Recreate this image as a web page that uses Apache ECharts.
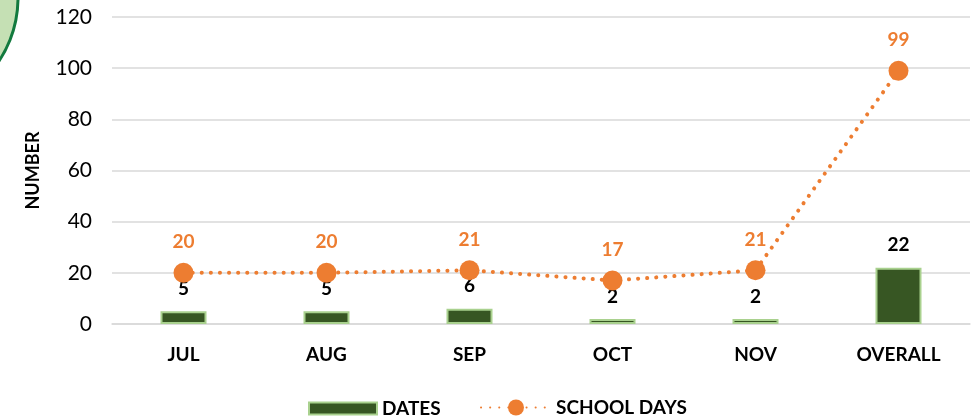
<!DOCTYPE html>
<html><head><meta charset="utf-8">
<script src="https://cdn.jsdelivr.net/npm/echarts@6/dist/echarts.min.js"></script>
<style>html,body{margin:0;padding:0;background:#fff}#c{width:976px;height:419px}</style>
</head><body><div id="c"></div>
<script>
const categories = ['JUL','AUG','SEP','OCT','NOV','OVERALL'];
const datesValues = [5,5,6,2,2,22];
const schoolDaysValues = [20,20,21,17,21,99];
const yTicks = [0,20,40,60,80,100,120];
const FONT = 'Lato';
const legendText = {fontFamily:FONT,fontWeight:'bold',fontSize:19,color:'#000'};
const chart = echarts.init(document.getElementById('c'));
chart.setOption({
  animation:false,
  textStyle:{fontFamily:FONT},
  graphic:[{type:'circle',shape:{cx:-96,cy:-2,r:114},style:{fill:'#c5e0b4',stroke:'#127a3e',lineWidth:3},z:-1}],
  grid:{left:112,right:6,top:17,bottom:95},
  legend:[
    {left:303,top:394,itemWidth:68,itemHeight:12,itemGap:10,textStyle:legendText,
     icon:'rect',data:[{name:'DATES'}]},
    {left:475,top:393,itemWidth:70,itemHeight:20,textStyle:legendText,
     data:[{name:'SCHOOL DAYS'}]}
  ],
  xAxis:{type:'category',data:categories,axisLine:{show:true,lineStyle:{color:'#d9d9d9',width:1.5}},axisTick:{show:false},
    axisLabel:{fontFamily:FONT,fontWeight:'bold',fontSize:19,color:'#000',margin:21}},
  yAxis:{type:'value',min:0,max:120,interval:20,name:'NUMBER',nameLocation:'middle',nameGap:70,
    nameTextStyle:{fontFamily:FONT,fontWeight:'bold',fontSize:18,color:'#000'},
    axisLabel:{fontFamily:FONT,fontSize:21,color:'#000',margin:20,formatter:v=>yTicks.includes(v)?String(v):''},
    splitLine:{lineStyle:{color:'#d9d9d9',width:1.5}},axisLine:{show:false},axisTick:{show:false}},
  series:[
    {name:'DATES',type:'bar',data:datesValues,barWidth:46,
     itemStyle:{color:'#375623',borderColor:'#a9d18e',borderWidth:2},
     label:{show:true,position:'top',distance:13,fontFamily:FONT,fontWeight:'bold',fontSize:19,color:'#000'}},
    {name:'SCHOOL DAYS',type:'line',data:schoolDaysValues,symbol:'circle',symbolSize:20,
     lineStyle:{color:'#ED7D31',width:4,type:[0.1,9],cap:'round'},
     itemStyle:{color:'#ED7D31'},
     label:{show:true,position:'top',distance:11,fontFamily:FONT,fontWeight:'bold',fontSize:19,color:'#ED7D31'}}
  ]
});
</script></body></html>
